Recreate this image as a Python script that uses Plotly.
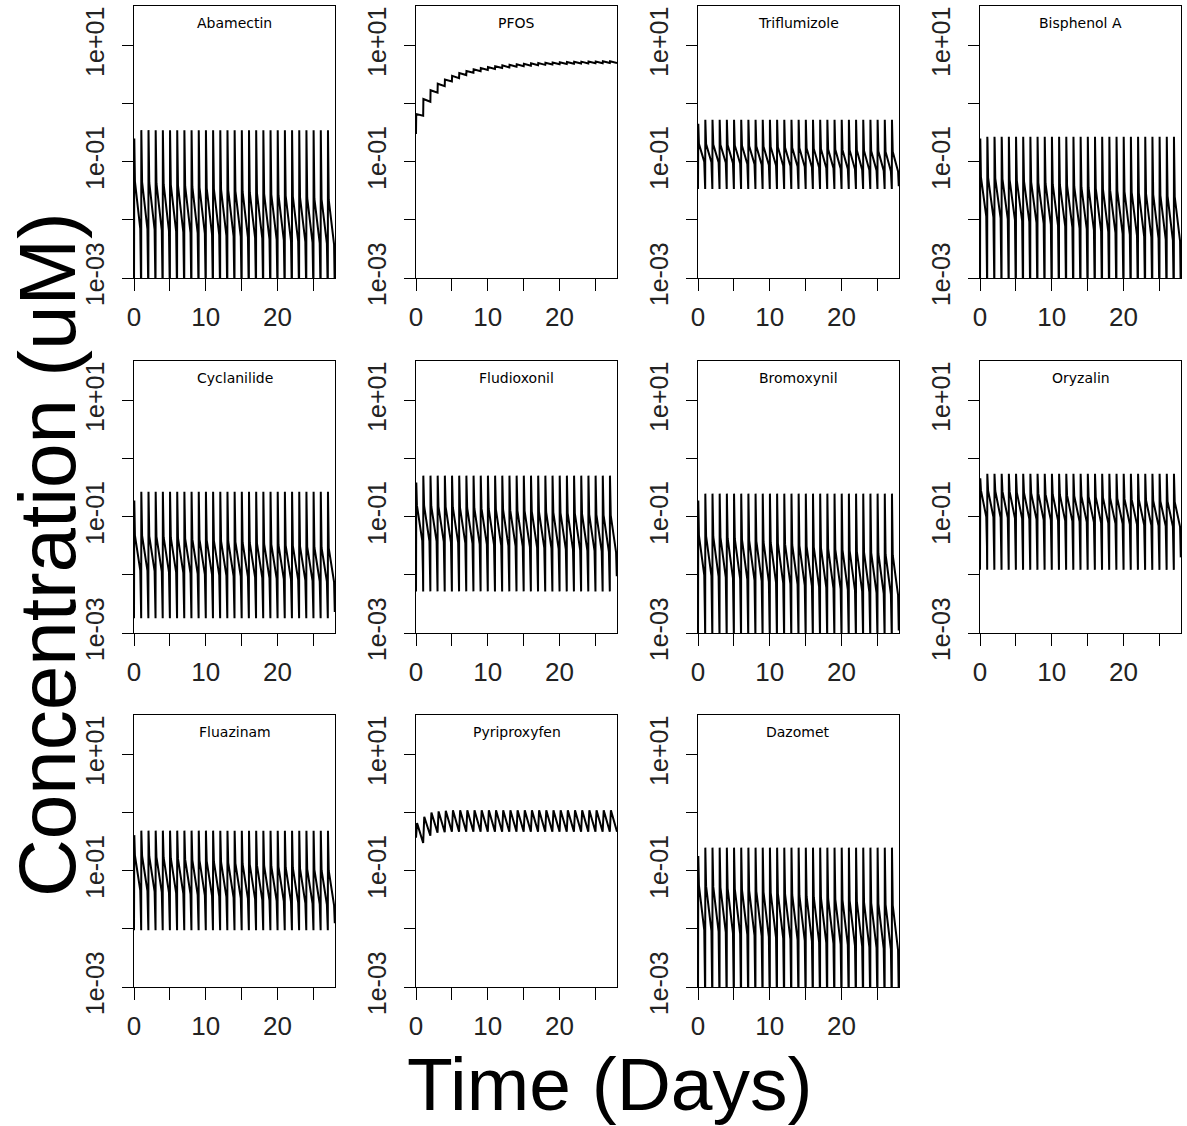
import plotly.graph_objects as go

days = list(range(28))

compounds = ["Abamectin", "PFOS", "Triflumizole", "Bisphenol A",
             "Cyclanilide", "Fludioxonil", "Bromoxynil", "Oryzalin",
             "Fluazinam", "Pyriproxyfen", "Dazomet"]

x_ticks = [0, 5, 10, 15, 20, 25]
x_tick_labels = ["0", "", "10", "", "20", ""]
y_ticks = [1e-3, 1e-2, 1e-1, 1e0, 1e1]
y_tick_labels = ["1e-03", "", "1e-01", "", "1e+01"]

# daily-dosing compounds (uM): peak right after the dose, level where the decline starts,
# end of the fast early decline, start of the late decline, end-of-day trough,
# and the short dip at the dose time
abamectin_peak, abamectin_dip = 0.35, 0.0005
abamectin_upper = [0.250, 0.245, 0.240, 0.234, 0.229, 0.224, 0.220, 0.215, 0.210, 0.206,
                   0.202, 0.197, 0.193, 0.189, 0.185, 0.181, 0.177, 0.174, 0.170, 0.166,
                   0.163, 0.160, 0.156, 0.153, 0.150, 0.146, 0.143, 0.140]
abamectin_early = [0.0460, 0.0448, 0.0436, 0.0424, 0.0412, 0.0401, 0.0390, 0.0380, 0.0369,
                   0.0359, 0.0350, 0.0340, 0.0331, 0.0322, 0.0313, 0.0305, 0.0297, 0.0289,
                   0.0281, 0.0273, 0.0266, 0.0259, 0.0252, 0.0245, 0.0238, 0.0232, 0.0226,
                   0.0220]
abamectin_late = [0.00710, 0.00694, 0.00678, 0.00662, 0.00647, 0.00633, 0.00618, 0.00604,
                  0.00590, 0.00577, 0.00564, 0.00551, 0.00538, 0.00526, 0.00514, 0.00502,
                  0.00491, 0.00479, 0.00468, 0.00458, 0.00447, 0.00437, 0.00427, 0.00417,
                  0.00408, 0.00398, 0.00389, 0.00380]
abamectin_trough = [0.00100, 0.00098, 0.00096, 0.00095, 0.00093, 0.00091, 0.00089, 0.00088,
                    0.00086, 0.00084, 0.00083, 0.00081, 0.00080, 0.00078, 0.00077, 0.00075,
                    0.00074, 0.00073, 0.00071, 0.00070, 0.00069, 0.00067, 0.00066, 0.00065,
                    0.00064, 0.00062, 0.00061, 0.00060]

triflumizole_peak, triflumizole_dip = 0.53, 0.034
triflumizole_upper = [0.450, 0.443, 0.437, 0.430, 0.424, 0.418, 0.411, 0.405, 0.399, 0.393,
                      0.388, 0.382, 0.376, 0.371, 0.365, 0.360, 0.355, 0.349, 0.344, 0.339,
                      0.334, 0.329, 0.324, 0.320, 0.315, 0.310, 0.305, 0.300]
triflumizole_early = [0.203, 0.201, 0.198, 0.196, 0.194, 0.191, 0.189, 0.187, 0.185, 0.182,
                      0.180, 0.178, 0.176, 0.174, 0.172, 0.170, 0.168, 0.166, 0.164, 0.162,
                      0.160, 0.158, 0.157, 0.155, 0.153, 0.151, 0.149, 0.148]
triflumizole_late = [0.100, 0.0986, 0.0972, 0.0958, 0.0944, 0.0931, 0.0918, 0.0905, 0.0892,
                     0.0879, 0.0867, 0.0855, 0.0843, 0.0831, 0.0819, 0.0807, 0.0796, 0.0785,
                     0.0773, 0.0762, 0.0752, 0.0741, 0.0731, 0.0720, 0.0710, 0.0700, 0.0690,
                     0.0680]
triflumizole_trough = [0.043, 0.043, 0.043, 0.042, 0.042, 0.042, 0.042, 0.042, 0.041, 0.041,
                       0.041, 0.041, 0.041, 0.040, 0.040, 0.040, 0.040, 0.040, 0.040, 0.039,
                       0.039, 0.039, 0.039, 0.039, 0.038, 0.038, 0.038, 0.038]

bisphenol_peak, bisphenol_dip = 0.27, 0.0004
bisphenol_upper = [0.250, 0.244, 0.238, 0.232, 0.227, 0.222, 0.216, 0.211, 0.206, 0.201,
                   0.196, 0.192, 0.187, 0.183, 0.178, 0.174, 0.170, 0.166, 0.162, 0.158,
                   0.154, 0.151, 0.147, 0.144, 0.140, 0.137, 0.133, 0.130]
bisphenol_early = [0.0550, 0.0534, 0.0519, 0.0504, 0.0489, 0.0475, 0.0462, 0.0448, 0.0435,
                   0.0423, 0.0411, 0.0399, 0.0387, 0.0376, 0.0365, 0.0355, 0.0345, 0.0335,
                   0.0325, 0.0316, 0.0307, 0.0298, 0.0289, 0.0281, 0.0273, 0.0265, 0.0257,
                   0.0250]
bisphenol_late = [0.01150, 0.01109, 0.01069, 0.01031, 0.00994, 0.00958, 0.00924, 0.00891,
                  0.00859, 0.00828, 0.00799, 0.00770, 0.00743, 0.00716, 0.00691, 0.00666,
                  0.00642, 0.00619, 0.00597, 0.00576, 0.00555, 0.00535, 0.00516, 0.00498,
                  0.00480, 0.00463, 0.00446, 0.00430]
bisphenol_trough = [0.00130, 0.00126, 0.00122, 0.00118, 0.00114, 0.00111, 0.00107, 0.00104,
                    0.00101, 0.00098, 0.00094, 0.00091, 0.00089, 0.00086, 0.00083, 0.00080,
                    0.00078, 0.00075, 0.00073, 0.00071, 0.00069, 0.00066, 0.00064, 0.00062,
                    0.00060, 0.00059, 0.00057, 0.00055]

cyclanilide_peak, cyclanilide_dip = 0.27, 0.0018
cyclanilide_upper = [0.190, 0.187, 0.184, 0.180, 0.177, 0.174, 0.171, 0.168, 0.166, 0.163,
                     0.160, 0.157, 0.155, 0.152, 0.150, 0.147, 0.145, 0.142, 0.140, 0.137,
                     0.135, 0.133, 0.131, 0.128, 0.126, 0.124, 0.122, 0.120]
cyclanilide_early = [0.0480, 0.0471, 0.0462, 0.0453, 0.0445, 0.0437, 0.0428, 0.0420, 0.0412,
                     0.0405, 0.0397, 0.0390, 0.0382, 0.0375, 0.0368, 0.0361, 0.0354, 0.0348,
                     0.0341, 0.0335, 0.0328, 0.0322, 0.0316, 0.0310, 0.0304, 0.0299, 0.0293,
                     0.0287]
cyclanilide_late = [0.01200, 0.01179, 0.01159, 0.01139, 0.01119, 0.01100, 0.01081, 0.01062,
                    0.01044, 0.01026, 0.01008, 0.00991, 0.00974, 0.00957, 0.00940, 0.00924,
                    0.00908, 0.00892, 0.00877, 0.00862, 0.00847, 0.00832, 0.00818, 0.00804,
                    0.00790, 0.00776, 0.00763, 0.00750]
cyclanilide_trough = [0.00300, 0.00297, 0.00294, 0.00291, 0.00288, 0.00286, 0.00283, 0.00280,
                      0.00277, 0.00274, 0.00272, 0.00269, 0.00266, 0.00264, 0.00261, 0.00259,
                      0.00256, 0.00254, 0.00251, 0.00249, 0.00246, 0.00244, 0.00241, 0.00239,
                      0.00237, 0.00234, 0.00232, 0.00230]

fludioxonil_peak, fludioxonil_dip = 0.51, 0.0052
fludioxonil_upper = [0.390, 0.382, 0.375, 0.368, 0.361, 0.354, 0.347, 0.340, 0.333, 0.327,
                     0.321, 0.314, 0.308, 0.302, 0.296, 0.291, 0.285, 0.280, 0.274, 0.269,
                     0.264, 0.258, 0.253, 0.248, 0.244, 0.239, 0.234, 0.230]
fludioxonil_early = [0.157, 0.155, 0.152, 0.150, 0.148, 0.146, 0.144, 0.142, 0.140, 0.138,
                     0.136, 0.134, 0.132, 0.130, 0.128, 0.126, 0.124, 0.122, 0.121, 0.119,
                     0.117, 0.115, 0.114, 0.112, 0.110, 0.109, 0.107, 0.106]
fludioxonil_late = [0.0390, 0.0383, 0.0377, 0.0370, 0.0364, 0.0358, 0.0352, 0.0346, 0.0340,
                    0.0334, 0.0328, 0.0323, 0.0317, 0.0312, 0.0306, 0.0301, 0.0296, 0.0291,
                    0.0286, 0.0281, 0.0276, 0.0272, 0.0267, 0.0262, 0.0258, 0.0254, 0.0249,
                    0.0245]
fludioxonil_trough = [0.0107, 0.0107, 0.0106, 0.0106, 0.0105, 0.0105, 0.0104, 0.0104, 0.0103,
                      0.0103, 0.0102, 0.0102, 0.0101, 0.0101, 0.0100, 0.0100, 0.0099, 0.0099,
                      0.0099, 0.0098, 0.0098, 0.0097, 0.0097, 0.0096, 0.0096, 0.0096, 0.0095,
                      0.0095]

bromoxynil_peak, bromoxynil_dip = 0.25, 0.0008
bromoxynil_upper = [0.190, 0.186, 0.182, 0.178, 0.174, 0.170, 0.167, 0.163, 0.160, 0.156,
                    0.153, 0.150, 0.146, 0.143, 0.140, 0.137, 0.134, 0.131, 0.129, 0.126,
                    0.123, 0.121, 0.118, 0.115, 0.113, 0.111, 0.108, 0.106]
bromoxynil_early = [0.0480, 0.0466, 0.0453, 0.0440, 0.0427, 0.0415, 0.0403, 0.0391, 0.0380,
                    0.0369, 0.0358, 0.0348, 0.0338, 0.0328, 0.0319, 0.0310, 0.0301, 0.0292,
                    0.0284, 0.0275, 0.0268, 0.0260, 0.0252, 0.0245, 0.0238, 0.0231, 0.0225,
                    0.0218]
bromoxynil_late = [0.00990, 0.00962, 0.00934, 0.00907, 0.00881, 0.00855, 0.00831, 0.00807,
                   0.00784, 0.00761, 0.00739, 0.00718, 0.00697, 0.00677, 0.00658, 0.00639,
                   0.00620, 0.00602, 0.00585, 0.00568, 0.00552, 0.00536, 0.00521, 0.00506,
                   0.00491, 0.00477, 0.00463, 0.00450]
bromoxynil_trough = [0.00170, 0.00167, 0.00165, 0.00162, 0.00159, 0.00157, 0.00154, 0.00152,
                     0.00149, 0.00147, 0.00145, 0.00142, 0.00140, 0.00138, 0.00136, 0.00134,
                     0.00131, 0.00129, 0.00127, 0.00125, 0.00123, 0.00121, 0.00119, 0.00117,
                     0.00115, 0.00114, 0.00112, 0.00110]

oryzalin_peak, oryzalin_dip = 0.55, 0.0122
oryzalin_upper = [0.460, 0.448, 0.436, 0.424, 0.412, 0.401, 0.390, 0.380, 0.369, 0.359,
                  0.350, 0.340, 0.331, 0.322, 0.313, 0.305, 0.297, 0.289, 0.281, 0.273,
                  0.266, 0.259, 0.252, 0.245, 0.238, 0.232, 0.226, 0.220]
oryzalin_early = [0.287, 0.282, 0.277, 0.273, 0.268, 0.263, 0.259, 0.254, 0.250, 0.245,
                  0.241, 0.237, 0.233, 0.229, 0.225, 0.221, 0.217, 0.213, 0.210, 0.206,
                  0.203, 0.199, 0.196, 0.192, 0.189, 0.186, 0.183, 0.180]
oryzalin_late = [0.1000, 0.0985, 0.0971, 0.0957, 0.0943, 0.0929, 0.0915, 0.0902, 0.0888,
                 0.0875, 0.0862, 0.0850, 0.0837, 0.0825, 0.0813, 0.0801, 0.0789, 0.0778,
                 0.0766, 0.0755, 0.0744, 0.0733, 0.0722, 0.0712, 0.0701, 0.0691, 0.0681, 0.0670]
oryzalin_trough = [0.0310, 0.0305, 0.0300, 0.0295, 0.0291, 0.0286, 0.0282, 0.0277, 0.0273,
                   0.0268, 0.0264, 0.0260, 0.0256, 0.0252, 0.0248, 0.0244, 0.0240, 0.0236,
                   0.0232, 0.0228, 0.0225, 0.0221, 0.0218, 0.0214, 0.0211, 0.0207, 0.0204,
                   0.0200]

fluazinam_peak, fluazinam_dip = 0.49, 0.0095
fluazinam_upper = [0.410, 0.401, 0.391, 0.382, 0.374, 0.365, 0.357, 0.349, 0.341, 0.333,
                   0.326, 0.318, 0.311, 0.304, 0.297, 0.290, 0.284, 0.277, 0.271, 0.265,
                   0.259, 0.253, 0.247, 0.241, 0.236, 0.230, 0.225, 0.220]
fluazinam_early = [0.184, 0.180, 0.176, 0.172, 0.168, 0.164, 0.160, 0.157, 0.153, 0.150,
                   0.147, 0.143, 0.140, 0.137, 0.134, 0.131, 0.128, 0.125, 0.122, 0.120,
                   0.117, 0.114, 0.112, 0.109, 0.107, 0.105, 0.102, 0.100]
fluazinam_late = [0.0460, 0.0450, 0.0440, 0.0431, 0.0422, 0.0412, 0.0403, 0.0395, 0.0386,
                  0.0378, 0.0370, 0.0362, 0.0354, 0.0346, 0.0339, 0.0331, 0.0324, 0.0317,
                  0.0310, 0.0304, 0.0297, 0.0291, 0.0284, 0.0278, 0.0272, 0.0266, 0.0261,
                  0.0255]
fluazinam_trough = [0.0150, 0.0149, 0.0148, 0.0147, 0.0146, 0.0145, 0.0145, 0.0144, 0.0143,
                    0.0142, 0.0141, 0.0140, 0.0139, 0.0138, 0.0137, 0.0136, 0.0135, 0.0134,
                    0.0133, 0.0132, 0.0131, 0.0130, 0.0129, 0.0128, 0.0128, 0.0127, 0.0126,
                    0.0125]

dazomet_peak, dazomet_dip = 0.25, 0.0005
dazomet_upper = [0.180, 0.176, 0.172, 0.169, 0.165, 0.161, 0.158, 0.154, 0.151, 0.148,
                 0.145, 0.141, 0.138, 0.135, 0.133, 0.130, 0.127, 0.124, 0.121, 0.119,
                 0.116, 0.114, 0.111, 0.109, 0.107, 0.104, 0.102, 0.100]
dazomet_early = [0.0560, 0.0544, 0.0528, 0.0513, 0.0498, 0.0484, 0.0470, 0.0457, 0.0444,
                 0.0431, 0.0418, 0.0406, 0.0395, 0.0383, 0.0372, 0.0362, 0.0351, 0.0341,
                 0.0331, 0.0322, 0.0313, 0.0304, 0.0295, 0.0286, 0.0278, 0.0270, 0.0262,
                 0.0255]
dazomet_late = [0.00950, 0.00922, 0.00896, 0.00870, 0.00845, 0.00820, 0.00796, 0.00773,
                0.00751, 0.00729, 0.00708, 0.00688, 0.00668, 0.00648, 0.00630, 0.00611,
                0.00594, 0.00576, 0.00560, 0.00543, 0.00528, 0.00512, 0.00498, 0.00483,
                0.00469, 0.00456, 0.00443, 0.00430]
dazomet_trough = [0.00120, 0.00118, 0.00115, 0.00113, 0.00111, 0.00109, 0.00107, 0.00105,
                  0.00102, 0.00100, 0.00098, 0.00097, 0.00095, 0.00093, 0.00091, 0.00089,
                  0.00087, 0.00086, 0.00084, 0.00082, 0.00081, 0.00079, 0.00078, 0.00076,
                  0.00075, 0.00073, 0.00072, 0.00070]

# accumulating compounds: daily peak and end-of-day value (uM)
pfos_start = 0.30
pfos_peak = [0.66, 1.2, 1.7, 2.2, 2.6, 3.0, 3.35, 3.65, 3.9, 4.1, 4.25, 4.4, 4.55, 4.65,
             4.75, 4.85, 4.95, 5.0, 5.05, 5.1, 5.15, 5.2, 5.25, 5.28, 5.3, 5.32, 5.35, 5.37]
pfos_trough = [0.62, 1.08, 1.55, 2.0, 2.4, 2.75, 3.1, 3.4, 3.6, 3.8, 3.95, 4.1, 4.2, 4.3,
               4.4, 4.5, 4.6, 4.65, 4.7, 4.75, 4.8, 4.85, 4.9, 4.92, 4.95, 4.97, 5.0, 5.02]

pyriproxyfen_start = 0.37
pyriproxyfen_peak = [0.66, 0.85, 1.0, 1.05, 1.08, 1.1, 1.1, 1.1, 1.1, 1.1, 1.1, 1.1, 1.1, 1.1,
                     1.1, 1.1, 1.1, 1.1, 1.1, 1.1, 1.1, 1.1, 1.1, 1.1, 1.1, 1.1, 1.1, 1.1]
pyriproxyfen_trough = [0.30, 0.40, 0.45, 0.46, 0.47, 0.47, 0.47, 0.47, 0.47, 0.47, 0.47, 0.47,
                       0.47, 0.47, 0.47, 0.47, 0.47, 0.47, 0.47, 0.47, 0.47, 0.47, 0.47, 0.47,
                       0.47, 0.47, 0.47, 0.47]

oscillating = {
    "Abamectin": (abamectin_peak, abamectin_dip, abamectin_upper, abamectin_early,
                  abamectin_late, abamectin_trough),
    "Triflumizole": (triflumizole_peak, triflumizole_dip, triflumizole_upper, triflumizole_early,
                     triflumizole_late, triflumizole_trough),
    "Bisphenol A": (bisphenol_peak, bisphenol_dip, bisphenol_upper, bisphenol_early,
                    bisphenol_late, bisphenol_trough),
    "Cyclanilide": (cyclanilide_peak, cyclanilide_dip, cyclanilide_upper, cyclanilide_early,
                    cyclanilide_late, cyclanilide_trough),
    "Fludioxonil": (fludioxonil_peak, fludioxonil_dip, fludioxonil_upper, fludioxonil_early,
                    fludioxonil_late, fludioxonil_trough),
    "Bromoxynil": (bromoxynil_peak, bromoxynil_dip, bromoxynil_upper, bromoxynil_early,
                   bromoxynil_late, bromoxynil_trough),
    "Oryzalin": (oryzalin_peak, oryzalin_dip, oryzalin_upper, oryzalin_early, oryzalin_late,
                 oryzalin_trough),
    "Fluazinam": (fluazinam_peak, fluazinam_dip, fluazinam_upper, fluazinam_early,
                  fluazinam_late, fluazinam_trough),
    "Dazomet": (dazomet_peak, dazomet_dip, dazomet_upper, dazomet_early, dazomet_late,
                dazomet_trough),
}
accumulating = {
    "PFOS": (pfos_start, pfos_peak, pfos_trough, 0.03),
    "Pyriproxyfen": (pyriproxyfen_start, pyriproxyfen_peak, pyriproxyfen_trough, 0.15),
}


def series(name):
    xs, ys = [], []
    if name in oscillating:
        peak, dip, upper, early, late, trough = oscillating[name]
        for d in days:
            xs += [d, d + 0.02, d + 0.04, d + 0.13, d + 0.87, d + 0.97]
            ys += [dip, peak if d > 0 else upper[d], upper[d], early[d], late[d], trough[d]]
        return xs, ys
    start, peak, trough, rise = accumulating[name]
    xs.append(0)
    ys.append(start)
    for d in days:
        xs += [d + rise, d + 1]
        ys += [peak[d], trough[d]]
    return xs, ys


W, H = 1187, 1126
col_left = [134, 416, 698, 980]
panel_w = 201
row_top = [6, 361, 715]
panel_h = 272

FONT = "Liberation Sans, Arial, sans-serif"
TICK_COLOR = "#222222"
fig = go.Figure()
layout = dict(width=W, height=H, margin=dict(l=0, r=0, t=0, b=0, autoexpand=False),
              paper_bgcolor="white", plot_bgcolor="white", showlegend=False,
              font=dict(family=FONT, color="black"))
annotations = []

for i, name in enumerate(compounds):
    r, c = divmod(i, 4)
    k = i + 1
    xs, ys = series(name)
    fig.add_trace(go.Scatter(x=xs, y=ys, mode="lines",
                             line=dict(color="black", width=2),
                             xaxis=f"x{k}", yaxis=f"y{k}", hoverinfo="skip"))
    x0 = col_left[c] / W
    x1 = (col_left[c] + panel_w) / W
    y1 = 1 - row_top[r] / H
    y0 = 1 - (row_top[r] + panel_h) / H
    layout[f"xaxis{k}"] = dict(
        domain=[x0, x1], anchor=f"y{k}", range=[0, 28], showgrid=False, zeroline=False,
        showline=True, linecolor="black", linewidth=1, mirror=True, automargin=False,
        ticks="outside", ticklen=12, tickwidth=1, tickcolor="black",
        tickvals=x_ticks, ticktext=x_tick_labels, ticklabelstandoff=4,
        tickfont=dict(size=26, family=FONT, color=TICK_COLOR))
    layout[f"yaxis{k}"] = dict(
        domain=[y0, y1], anchor=f"x{k}", type="log", range=[-3, 1.68],
        showgrid=False, zeroline=False, automargin=False,
        showline=True, linecolor="black", linewidth=1, mirror=True,
        ticks="outside", ticklen=11, tickwidth=1, tickcolor="black",
        tickvals=y_ticks, ticktext=y_tick_labels, tickangle=-90, ticklabelstandoff=8,
        tickfont=dict(size=25, family=FONT, color=TICK_COLOR))
    annotations.append(dict(
        text=name, xref="paper", yref="paper",
        x=(col_left[c] + panel_w / 2) / W, y=1 - (row_top[r] + 17) / H,
        xanchor="center", yanchor="middle", showarrow=False,
        font=dict(size=14, family="DejaVu Sans, sans-serif", color="black")))

annotations.append(dict(
    text="Concentration (uM)", xref="paper", yref="paper",
    x=48 / W, y=1 - 555 / H, xanchor="center", yanchor="middle",
    textangle=-90, showarrow=False, font=dict(size=80, family=FONT, color="black")))
annotations.append(dict(
    text="Time (Days)", xref="paper", yref="paper",
    x=610 / W, y=1 - 1084 / H, xanchor="center", yanchor="middle",
    showarrow=False, font=dict(size=75, family=FONT, color="black")))
layout["annotations"] = annotations
fig.update_layout(**layout)
fig.write_html("out.html")
